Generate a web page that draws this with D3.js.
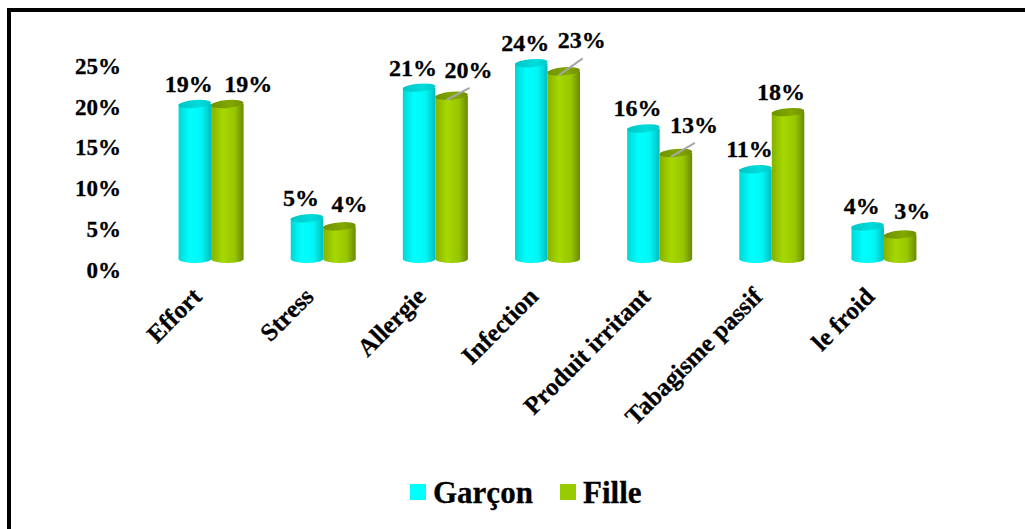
<!DOCTYPE html>
<html>
<head>
<meta charset="utf-8">
<script src="https://cdn.jsdelivr.net/npm/d3@7"></script>
<style>
  body { margin: 0; background: #fff; }
  svg text { font-family: "Times New Roman", "Liberation Serif", serif; font-weight: bold; fill: #000; stroke: #000; stroke-width: 0.3px; }
</style>
</head>
<body>
<div id="chart"></div>
<script>
var categories = ["Effort", "Stress", "Allergie", "Infection", "Produit irritant", "Tabagisme passif", "le froid"];
var series = ["Garçon", "Fille"];
var garcon = [19, 5, 21, 24, 16, 11, 4];
var fille = [19, 4, 20, 23, 13, 18, 3];
var yTicks = [0, 5, 10, 15, 20, 25];

// label nudges for the "Fille" values (layout only), dx from bar centre, dy from bar top
var filleLabelNudge = {
  "Effort": [21, -12, false],
  "Stress": [10, -14, false],
  "Allergie": [17, -18, true],
  "Infection": [18, -23, true],
  "Produit irritant": [18, -20, true],
  "Tabagisme passif": [-7, -12, false],
  "le froid": [12, -16, false]
};

var width = 1025, height = 529;
var svg = d3.select("#chart").append("svg")
  .attr("width", width)
  .attr("height", height);

var defs = svg.append("defs");
function hgrad(id, stops) {
  var g = defs.append("linearGradient").attr("id", id)
    .attr("x1", "0%").attr("x2", "100%").attr("y1", "0%").attr("y2", "0%");
  stops.forEach(function(s) {
    g.append("stop").attr("offset", s[0]).attr("stop-color", s[1]);
  });
}
hgrad("cyanBody", [["0%", "#00d6d6"], ["35%", "#00ffff"], ["70%", "#00f6f6"], ["100%", "#00bcbc"]]);
hgrad("cyanTop", [["0%", "#00c4c4"], ["60%", "#00dcdc"], ["100%", "#00c8c8"]]);
hgrad("greenBody", [["0%", "#86b000"], ["35%", "#a6d800"], ["72%", "#98c600"], ["100%", "#6a8a00"]]);
hgrad("greenTop", [["0%", "#6f9200"], ["60%", "#82a800"], ["100%", "#6f9000"]]);

// border
svg.append("rect")
  .attr("x", 9).attr("y", 10)
  .attr("width", 1100).attr("height", 600)
  .attr("fill", "none")
  .attr("stroke", "black")
  .attr("stroke-width", 4);

var y = d3.scaleLinear().domain([0, 25]).range([259, 55]);
var x0 = d3.scaleBand().domain(categories).range([155, 940]).padding(0);
var groupW = 65;
var x1 = d3.scaleBand().domain(series).range([0, groupW]);

var yAxis = d3.axisLeft(y).tickValues(yTicks).tickSize(0).tickPadding(0)
  .tickFormat(function(d) { return d + "%"; });
var ya = svg.append("g").attr("transform", "translate(121,11)").call(yAxis);
ya.select(".domain").remove();
ya.selectAll("text")
  .style("font-size", "23px")
  .style("font-family", "'Times New Roman', 'Liberation Serif', serif")
  .style("font-weight", "bold")
  .attr("fill", "#000");

var rows = [];
categories.forEach(function(c, i) {
  rows.push({cat: c, s: "Garçon", v: garcon[i]});
  rows.push({cat: c, s: "Fille", v: fille[i]});
});

function barX(d) {
  return x0(d.cat) + (x0.bandwidth() - groupW) / 2 + x1(d.s);
}

var ry = 4;
var bw = x1.bandwidth();
var bars = svg.append("g").selectAll("g.bar").data(rows).enter().append("g").attr("class", "bar");

bars.append("ellipse")
  .attr("cx", function(d) { return barX(d) + bw / 2; })
  .attr("cy", y(0))
  .attr("rx", bw / 2).attr("ry", ry)
  .attr("fill", function(d) { return d.s === "Garçon" ? "url(#cyanBody)" : "url(#greenBody)"; });

bars.append("rect")
  .attr("x", function(d) { return barX(d); })
  .attr("y", function(d) { return y(d.v); })
  .attr("width", bw)
  .attr("height", function(d) { return y(0) - y(d.v); })
  .attr("fill", function(d) { return d.s === "Garçon" ? "url(#cyanBody)" : "url(#greenBody)"; });

bars.append("ellipse")
  .attr("cx", function(d) { return barX(d) + bw / 2; })
  .attr("cy", function(d) { return y(d.v); })
  .attr("rx", bw / 2).attr("ry", ry)
  .attr("transform", function(d) { return "rotate(-5," + (barX(d) + bw / 2) + "," + y(d.v) + ")"; })
  .attr("fill", function(d) { return d.s === "Garçon" ? "url(#cyanTop)" : "url(#greenTop)"; });

// value labels
function labelPos(d) {
  var cx = barX(d) + bw / 2;
  if (d.s === "Garçon") return [cx - 6, y(d.v) - 12, false];
  var n = filleLabelNudge[d.cat];
  return [cx + n[0], y(d.v) + n[1], n[2]];
}

var labels = svg.append("g");
rows.forEach(function(d) {
  var p = labelPos(d);
  if (p[2]) {
    labels.append("line")
      .attr("x1", p[0] + 1).attr("y1", p[1] + 10)
      .attr("x2", barX(d) + bw / 2 - 5).attr("y2", y(d.v) + 4)
      .attr("stroke", "#a6a6a6").attr("stroke-width", 2);
  }
  labels.append("text")
    .attr("x", p[0]).attr("y", p[1])
    .attr("text-anchor", "middle")
    .style("font-size", "24px")
    .text(d.v + "%");
});

// category labels
svg.append("g").selectAll("text").data(categories).enter().append("text")
  .attr("transform", function(c) { return "translate(" + (x0(c) + x0.bandwidth() / 2 - 8) + ",298) rotate(-45)"; })
  .attr("text-anchor", "end")
  .style("font-size", "25px")
  .text(function(c) { return c; });

// legend
var legend = svg.append("g");
var legendX = [410, 560];
series.forEach(function(s, i) {
  legend.append("rect")
    .attr("x", legendX[i]).attr("y", 484)
    .attr("width", 16).attr("height", 16)
    .attr("fill", i === 0 ? "#00ffff" : "#99cc00");
  legend.append("text")
    .attr("x", legendX[i] + 23).attr("y", 503)
    .style("font-size", "31px")
    .text(s);
});
</script>
</body>
</html>
